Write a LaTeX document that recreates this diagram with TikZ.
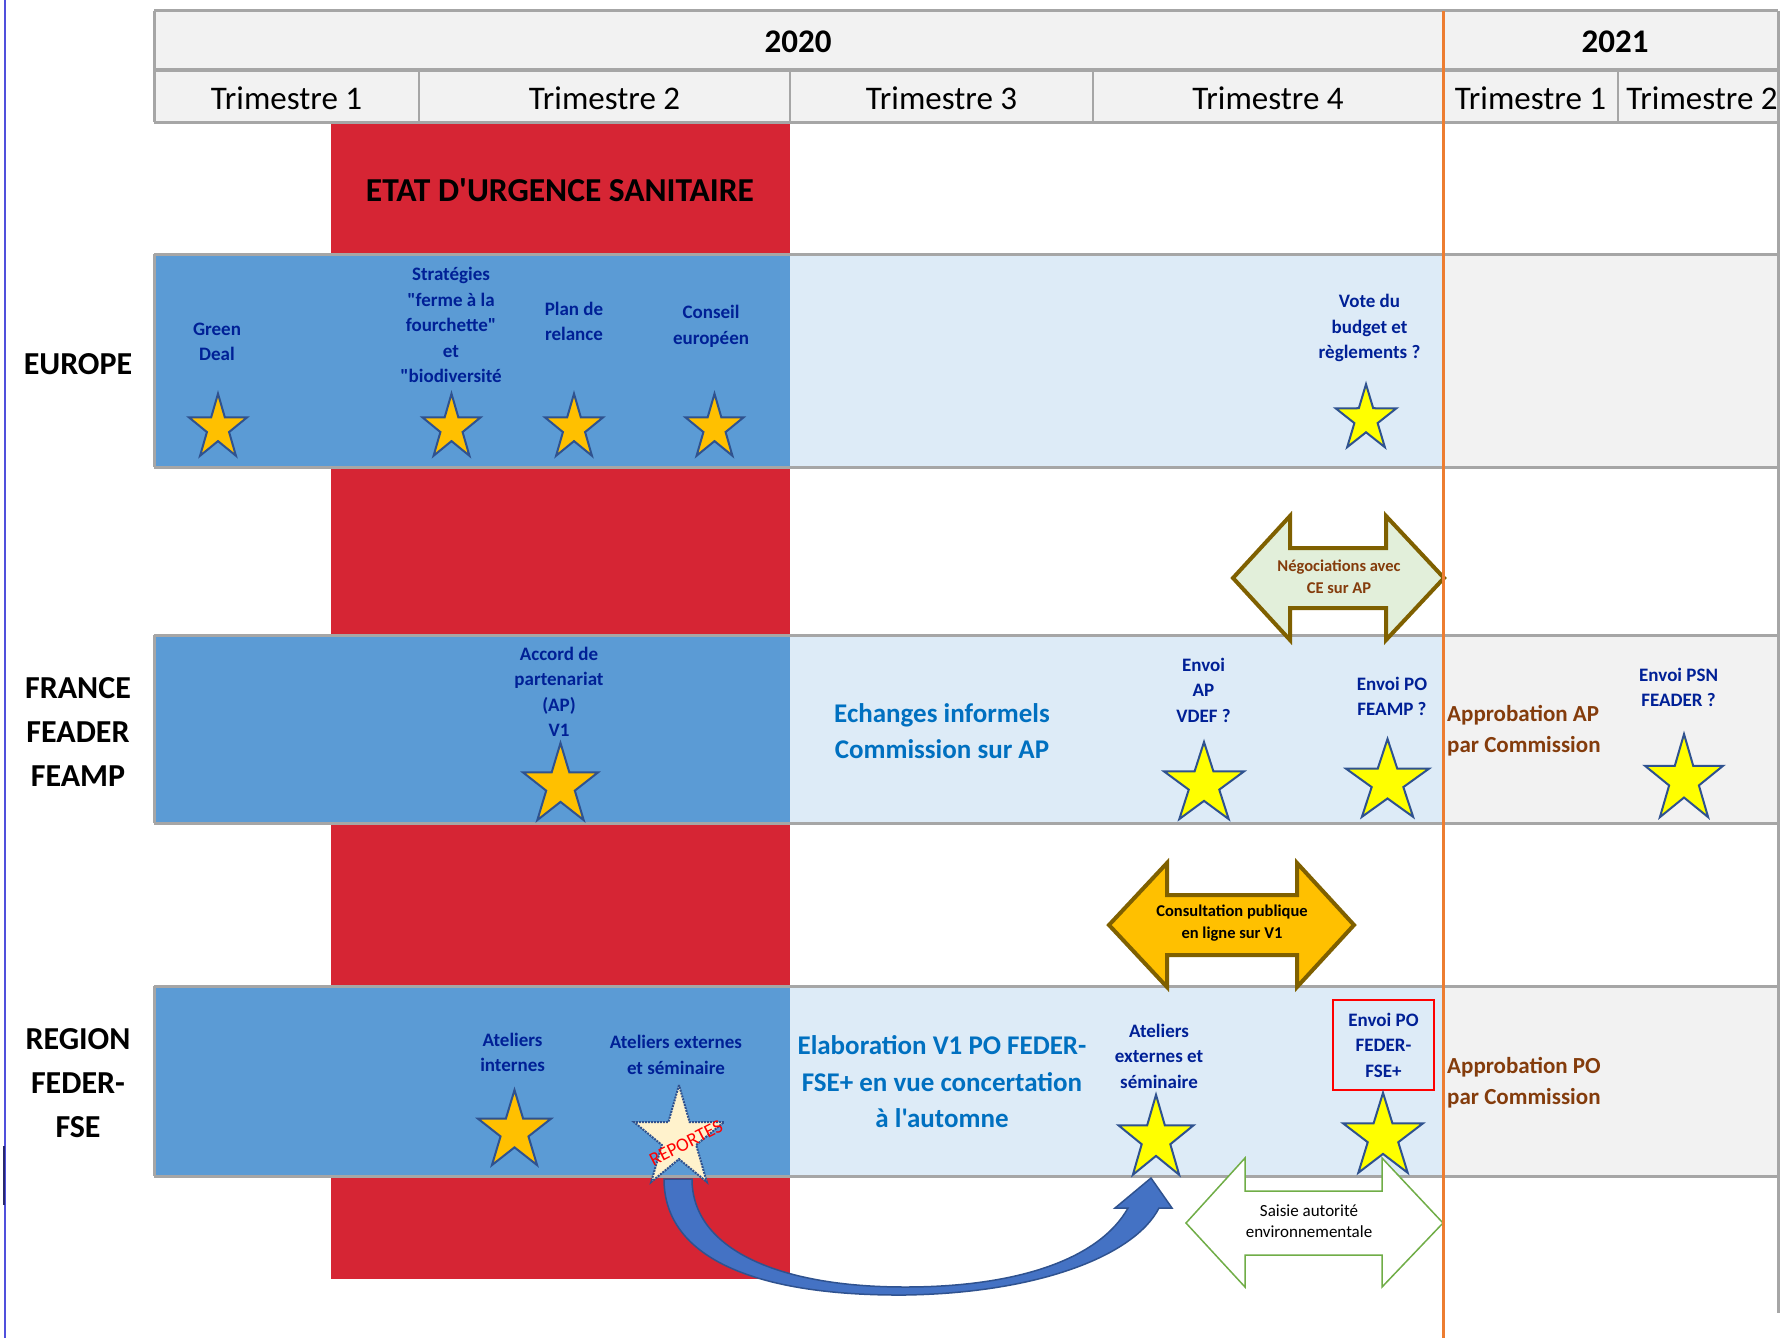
\documentclass[tikz,border=0pt]{standalone}
\usepackage{fontspec}
\setmainfont{Carlito}[Ligatures=TeXOff]
\usetikzlibrary{positioning}
\definecolor{grisligne}{RGB}{166,166,166}
\definecolor{grisfond}{RGB}{242,242,242}
\definecolor{rougeurg}{RGB}{214,37,52}
\definecolor{bleuvif}{RGB}{91,155,213}
\definecolor{bleupale}{RGB}{221,235,247}
\definecolor{orangeligne}{RGB}{237,125,49}
\definecolor{or}{RGB}{255,192,0}
\definecolor{jaune}{RGB}{255,255,0}
\definecolor{creme}{RGB}{255,242,204}
\definecolor{etoilebord}{RGB}{47,82,143}
\definecolor{bleunuit}{RGB}{0,32,150}
\definecolor{bleuphase}{RGB}{0,112,192}
\definecolor{brun}{RGB}{132,60,12}
\definecolor{olive}{RGB}{127,96,0}
\definecolor{vertpale}{RGB}{226,239,218}
\definecolor{vertbord}{RGB}{112,173,71}
\definecolor{flechebleu}{RGB}{68,114,196}
\definecolor{bordgauche}{RGB}{80,80,220}

\tikzset{
  entete/.style={font=\fontsize{33}{40}\selectfont},
  annee/.style={font=\bfseries\fontsize{33}{40}\selectfont},
  acteur/.style={font=\bfseries\fontsize{32}{44}\selectfont, align=center},
  jalon/.style={text=bleunuit, font=\bfseries\fontsize{19}{25.5}\selectfont, align=center},
  phase/.style={text=bleuphase, font=\bfseries\fontsize{27}{36.5}\selectfont, align=center},
  approbation/.style={text=brun, font=\bfseries\fontsize{23}{31}\selectfont, align=left, anchor=west, inner sep=0pt},
  petit/.style={font=\bfseries\fontsize{16.5}{21.5}\selectfont, align=center},
  etoiletrait/.style={draw=etoilebord, line width=2pt, line join=miter},
  pics/etoile/.style n args={3}{code={
    \draw[etoiletrait, #1] (90:#2pt and #3pt)
      \foreach \k in {0,...,4}{ -- (126+72*\k:0.382*#2pt and 0.382*#3pt) -- (162+72*\k:#2pt and #3pt)} -- cycle;
    \coordinate (-c) at (0,0);
  }}
}

\begin{document}
\begin{tikzpicture}[x=1pt, y=-1pt]
\useasboundingbox (0,0) rectangle (1782,1338);

% bord de page
\draw[bordgauche, line width=1.5] (5,0) -- (5,1338);
\draw[bordgauche!50!black, line width=2.5] (4,1146) -- (4,1205);

% etat d'urgence
\fill[rougeurg] (331,122) rectangle (790,1279);

% en-tete
\fill[grisfond] (154,11) rectangle (1778,122);
\foreach \x in {419,790,1093,1618}
    \draw[grisligne, line width=1.5] (\x,70) -- (\x,122);
\draw[grisligne, line width=3] (154,11) -- (1778,11) (154,70) -- (1778,70)
    (154,122) -- (1778,122) (154,11) -- (154,122);
\node[annee] (a2020) at (798,42) {2020};
\node[annee] (a2021) at (1615,42) {2021};
\foreach \x/\t/\n in {286.5/1/t1, 604.5/2/t2, 941.5/3/t3, 1268/4/t4, 1530.5/1/u1, 1702/2/u2}
    \node[entete] (\n) at (\x,98) {Trimestre \t};

% lignes
\foreach \ya/\yb in {254/467, 635/823, 986/1176} {
    \fill[bleuvif] (154,\ya) rectangle (790,\yb);
    \fill[bleupale] (790,\ya) rectangle (1443,\yb);
    \fill[grisfond] (1443,\ya) rectangle (1778,\yb);
    \draw[grisligne, line width=3] (154,\ya) -- (1778,\ya) (154,\yb) -- (1778,\yb) (154,\ya) -- (154,\yb);
}
\draw[grisligne, line width=3] (1778,11) -- (1778,1313);

\node[font=\bfseries\fontsize{33.5}{40}\selectfont] (urgence) at (560,190) {ETAT D'URGENCE SANITAIRE};

% acteurs
\node[acteur] (europe) at (78,364) {EUROPE};
\node[acteur] (france) at (78,732) {FRANCE\\FEADER\\FEAMP};
\node[acteur] (region) at (78,1083) {REGION\\FEDER-\\FSE};

% Europe
\node[jalon] (green) at (217,342) {Green\\Deal};
\node[jalon] (strat) at (451,325) {Stratégies\\"ferme à la\\fourchette"\\et\\"biodiversité};
\node[jalon] (plan) at (574,321.5) {Plan de\\relance};
\node[jalon] (conseil) at (711,326.5) {Conseil\\européen};
\node[jalon] (vote) at (1369.5,328) {Vote du\\budget et\\règlements ?};
\foreach \n/\x in {e1/218, e2/451.5, e3/574, e4/714.5}
    \pic (\n) at (\x,428) {etoile={fill=or}{30.5}{34.3}};
\pic (e5) at (1366,419) {etoile={fill=jaune}{32}{34.8}};

% France
\node[jalon] (accord) at (559,692) {Accord de\\partenariat\\(AP)\\V1};
\node[phase] (echanges) at (942,731) {Echanges informels\\Commission sur AP};
\node[jalon] (envoiap) at (1203.5,690) {Envoi\\AP\\VDEF ?};
\node[jalon] (envoifeamp) at (1392,696.5) {Envoi PO\\FEAMP ?};
\node[approbation] (approap) at (1447,731) {Approbation AP\\par Commission};
\node[jalon] (envoipsn) at (1678.6,687.5) {Envoi PSN\\FEADER ?};
\pic (f1) at (560.5,785.6) {etoile={fill=or}{39.4}{42.6}};
\pic (f2) at (1204,784.6) {etoile={fill=jaune}{42}{42.6}};
\pic (f3) at (1387.5,782) {etoile={fill=jaune}{43.6}{43.1}};
\pic (f4) at (1684,780) {etoile={fill=jaune}{41}{45.9}};

% Region
\node[jalon] (internes) at (512.6,1052.5) {Ateliers\\internes};
\node[jalon] (externes) at (676,1055) {Ateliers externes\\et séminaire};
\node[phase] (elabo) at (942,1082) {Elaboration V1 PO FEDER-\\FSE+ en vue concertation\\à l'automne};
\node[jalon] (externes2) at (1159,1056) {Ateliers\\externes et\\séminaire};
\node[jalon, draw=red, line width=1.5, minimum width=101pt, minimum height=90pt, inner sep=0pt]
    (envoifeder) at (1383.5,1045) {Envoi PO\\FEDER-\\FSE+};
\node[approbation] (approp) at (1447,1082.5) {Approbation PO\\par Commission};
\pic (r1) at (514.5,1131.5) {etoile={fill=or}{38.4}{41.5}};
\pic (r2) at (679,1138.6) {etoile={fill=creme, densely dotted}{47.3}{53.6}};
\pic (r3) at (1156,1139) {etoile={fill=jaune}{39.4}{44.2}};
\pic (r4) at (1383,1137) {etoile={fill=jaune}{42}{44.2}};
\node[text=red, rotate=27, inner sep=0pt, font=\fontsize{19}{20}\selectfont] (reporte) at (686,1143) {REPORTES};

% fleches doubles
\draw[fill=vertpale, draw=olive, line width=4, line join=miter]
    (1233,578) -- (1290,516) -- (1290,548) -- (1386,548) -- (1386,516) -- (1444,578)
    -- (1386,640) -- (1386,608) -- (1290,608) -- (1290,640) -- cycle;
\node[petit, text=brun] (nego) at (1339,577) {Négociations avec\\CE sur AP};

\draw[fill=or, draw=olive, line width=4, line join=miter]
    (1109,925) -- (1167,863) -- (1167,895) -- (1297,895) -- (1297,863) -- (1354,925)
    -- (1297,987) -- (1297,955) -- (1167,955) -- (1167,987) -- cycle;
\node[petit] (consult) at (1232,923) {Consultation publique\\en ligne sur V1};

\draw[fill=white, draw=vertbord, line width=1.5]
    (1186,1223) -- (1245,1158) -- (1245,1191) -- (1382,1191) -- (1382,1158) -- (1443,1223)
    -- (1382,1287) -- (1382,1255) -- (1245,1255) -- (1245,1287) -- cycle;
\node[font=\fontsize{17}{21.5}\selectfont, align=center] (saisie) at (1309,1221) {Saisie autorité\\environnementale};

% report des ateliers
\draw[fill=flechebleu, draw=etoilebord, line width=1.5]
    (664,1179) .. controls (664,1260) and (760,1296) .. (905,1295)
    .. controls (1040,1293) and (1135,1255) .. (1159,1208)
    -- (1172,1208) -- (1151,1178) -- (1115,1208) -- (1128,1208)
    .. controls (1100,1258) and (1020,1287) .. (905,1287)
    .. controls (780,1287) and (692,1250) .. (692,1179) -- cycle;

% fin 2020
\draw[orangeligne, line width=3] (1443,11) -- (1443,1338);
\end{tikzpicture}
\end{document}
